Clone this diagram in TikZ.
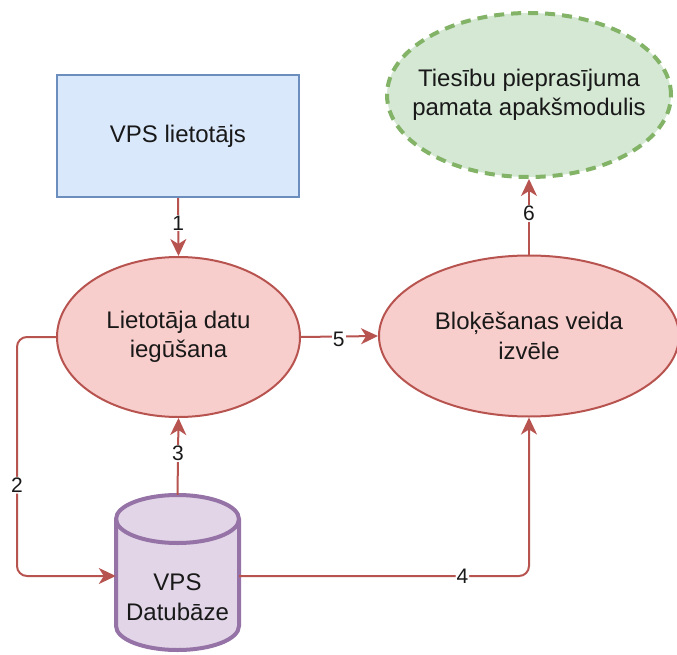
\documentclass[tikz,border=0pt]{standalone}
\usepackage{fontspec}
\setmainfont{Liberation Sans}
\usetikzlibrary{shapes.geometric,arrows.meta,calc}
\definecolor{bluefill}{HTML}{DAE8FC}
\definecolor{bluestroke}{HTML}{6C8EBF}
\definecolor{redfill}{HTML}{F8CECC}
\definecolor{redstroke}{HTML}{B85450}
\definecolor{greenfill}{HTML}{D5E8D4}
\definecolor{greenstroke}{HTML}{82B366}
\definecolor{purplefill}{HTML}{E1D5E7}
\definecolor{purplestroke}{HTML}{9673A6}
\tikzset{
  txt/.style={font=\fontsize{24}{29.5}\selectfont, align=center, text=black!90},
  userbox/.style={txt, draw=bluestroke, fill=bluefill, line width=2pt, minimum width=242pt, minimum height=122pt, inner sep=0pt},
  proc/.style={ellipse, draw=redstroke, fill=redfill, line width=2pt, inner sep=0pt},
  goal/.style={ellipse, draw=greenstroke, fill=greenfill, line width=4pt, dash pattern=on 10pt off 7pt, inner sep=0pt},
  edge/.style={draw=redstroke, line width=2pt, -{Stealth[length=17pt,width=16pt,inset=5pt]}},
  lbl/.style={font=\fontsize{21}{24}\selectfont, fill=white, inner sep=1pt, text=black!90},
}
\begin{document}
\begin{tikzpicture}[x=1pt,y=-1pt]
\useasboundingbox (0,0) rectangle (677,655);

\node[userbox] (user) at (178,136) {VPS lietotājs};
\node[proc, minimum width=243pt, minimum height=160pt] (get) at (178.5,337) {};
\node[txt] (gett) at (get) {Lietotāja datu\\iegūšana};
\node[proc, minimum width=300pt, minimum height=161pt] (sel) at (529,336) {};
\node[txt] (selt) at (sel) {Bloķēšanas veida\\izvēle};
\node[goal, minimum width=284pt, minimum height=164pt] (mod) at (529,95) {};
\node[txt] (modt) at (mod) {Tiesību pieprasījuma\\pamata apakšmodulis};

% database (cylinder)
\node[minimum width=123pt, minimum height=155pt, inner sep=0pt] (db) at (177.5,572.5) {};
\path[draw=purplestroke, fill=purplefill, line width=4pt]
  (116,519) arc[start angle=180, end angle=360, x radius=61.5, y radius=24]
  -- (239,626) arc[start angle=0, end angle=180, x radius=61.5, y radius=24] -- cycle;
\draw[purplestroke, line width=4pt] (116,519) arc[start angle=180, end angle=0, x radius=61.5, y radius=24];
\node[txt] (dbt) at (177.5,597) {VPS\\Datubāze};

% connectors
\draw[edge] (user.south) -- node[lbl, pos=0.43] {1} (get.north);
\draw[edge, rounded corners=10pt] (get.west) -- ++(-39,0) |- node[lbl, pos=0.31] {2} (db.west |- 0,576);
\draw[edge] (db.north) -- node[lbl, pos=0.54] {3} (get.south);
\draw[edge, rounded corners=10pt] (db.east |- 0,576) -| node[lbl, pos=0.385] {4} (sel.south);
\draw[edge] (get.east) -- node[lbl, pos=0.49, yshift=-3pt] {5} (sel.west);
\draw[edge] (sel.north) -- node[lbl, pos=0.54] {6} (mod.south);
\end{tikzpicture}
\end{document}
